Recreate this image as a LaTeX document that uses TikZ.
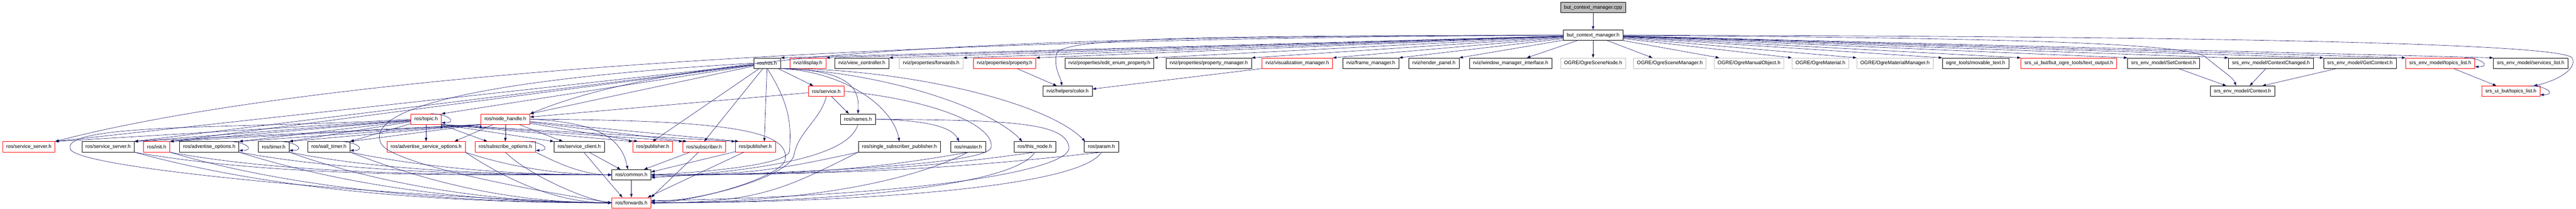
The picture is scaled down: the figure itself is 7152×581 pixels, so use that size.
\documentclass[tikz,border=0pt]{standalone}
\usepackage{fontspec}
\setmainfont{Liberation Sans}
\usepackage{tikz}
\usetikzlibrary{shapes,positioning,arrows,arrows.meta,calc}
\definecolor{edgeblue}{HTML}{191970}
\definecolor{boxgray}{HTML}{BFBFBF}

\begin{document}
\begin{tikzpicture}[x=1pt,y=1pt,
            hbox/.style={rectangle, draw, line width=1pt, inner xsep=10pt, inner ysep=0pt,
                minimum height=29pt, anchor=center, fill=white, font=\fontsize{14}{16}\selectfont},
            hfile/.style={hbox, draw=black},
            hred/.style={hbox, draw=red},
            hgray/.style={hbox, draw=boxgray},
            hroot/.style={hbox, draw=black, fill=boxgray},
            incl/.style={draw=edgeblue, line width=0.9pt, -{Triangle[length=10pt,width=7pt]}}]

            \path[use as bounding box, fill=white] (0,0) rectangle (7152,-581);

            % the file and its header
            \node [hroot] (cpp) at (4423,-21) {but\_context\_manager.cpp};
            \node [hfile] (hdr) at (4423,-98) {but\_context\_manager.h};

            % what the header includes
            \node [hfile] (ros) at (2130,-176) {ros/ros.h};
            \node [hred] (display) at (2243,-176) {rviz/display.h};
            \node [hfile] (viewctl) at (2393,-176) {rviz/view\_controller.h};
            \node [hgray] (propfwd) at (2585,-176) {rviz/properties/forwards.h};
            \node [hred] (prop) at (2789,-176) {rviz/properties/property.h};
            \node [hfile] (editenum) at (3080,-176) {rviz/properties/edit\_enum\_property.h};
            \node [hfile] (propmgr) at (3356,-176) {rviz/properties/property\_manager.h};
            \node [hred] (vizmgr) at (3602,-176) {rviz/visualization\_manager.h};
            \node [hfile] (framemgr) at (3806,-176) {rviz/frame\_manager.h};
            \node [hfile] (render) at (3981,-176) {rviz/render\_panel.h};
            \node [hfile] (winmgr) at (4194,-176) {rviz/window\_manager\_interface.h};
            \node [hgray] (scenenode) at (4423,-176) {OGRE/OgreSceneNode.h};
            \node [hgray] (scenemgr) at (4636,-176) {OGRE/OgreSceneManager.h};
            \node [hgray] (manual) at (4856,-176) {OGRE/OgreManualObject.h};
            \node [hgray] (material) at (5054,-176) {OGRE/OgreMaterial.h};
            \node [hgray] (matmgr) at (5261,-176) {OGRE/OgreMaterialManager.h};
            \node [hfile] (movtext) at (5485,-176) {ogre\_tools/movable\_text.h};
            \node [hred] (textout) at (5744,-176) {srs\_ui\_but/but\_ogre\_tools/text\_output.h};
            \node [hfile] (setctx) at (6007,-176) {srs\_env\_model/SetContext.h};
            \node [hfile] (ctxchg) at (6305,-176) {srs\_env\_model/ContextChanged.h};
            \node [hfile] (getctx) at (6552,-176) {srs\_env\_model/GetContext.h};
            \node [hred] (envtopics) at (6775,-176) {srs\_env\_model/topics\_list.h};
            \node [hfile] (envsrv) at (7026,-176) {srs\_env\_model/services\_list.h};

            % third level
            \node [hred] (svc) at (2294,-254) {ros/service.h};
            \node [hfile] (color) at (2964,-254) {rviz/helpers/color.h};
            \node [hfile] (ctx) at (6226,-254) {srs\_env\_model/Context.h};
            \node [hred] (uitopics) at (6971,-254) {srs\_ui\_but/topics\_list.h};

            \node [hred] (topic) at (1183,-332) {ros/topic.h};
            \node [hred] (nh) at (1403,-332) {ros/node\_handle.h};
            \node [hfile] (names) at (2382,-332) {ros/names.h};

            % roscpp headers
            \node [hred] (ssrvr) at (80,-409) {ros/service\_server.h};
            \node [hfile] (ssrvb) at (300,-409) {ros/service\_server.h};
            \node [hred] (init) at (435,-409) {ros/init.h};
            \node [hfile] (advopt) at (581,-409) {ros/advertise\_options.h};
            \node [hfile] (timer) at (760,-409) {ros/timer.h};
            \node [hfile] (wtimer) at (913,-409) {ros/wall\_timer.h};
            \node [hred] (advsrv) at (1183,-409) {ros/advertise\_service\_options.h};
            \node [hred] (subopt) at (1403,-409) {ros/subscribe\_options.h};
            \node [hfile] (srvcli) at (1608,-409) {ros/service\_client.h};
            \node [hred] (pubA) at (1812,-409) {ros/publisher.h};
            \node [hred] (sub) at (1955,-409) {ros/subscriber.h};
            \node [hred] (pubB) at (2097,-409) {ros/publisher.h};
            \node [hfile] (ssp) at (2497,-409) {ros/single\_subscriber\_publisher.h};
            \node [hfile] (master) at (2688,-409) {ros/master.h};
            \node [hfile] (thisnode) at (2873,-409) {ros/this\_node.h};
            \node [hfile] (param) at (3058,-409) {ros/param.h};

            \node [hfile] (common) at (1753,-487) {ros/common.h};
            \node [hred] (fwd) at (1753,-565) {ros/forwards.h};

            % includes
            \draw[incl] (cpp) -- (hdr);

            \path[incl] (hdr) edge (ros.north east) edge (display.north east) edge (viewctl.north east) edge (propfwd.north east) edge (prop.north east);
            \path[incl] (hdr) edge (editenum.north east) edge (propmgr.north east) edge (vizmgr.north east) edge (framemgr.north east) edge (render.north east);
            \path[incl] (hdr) edge ([xshift=45pt]winmgr.north) edge (scenenode) edge ([xshift=-48pt]scenemgr.north) edge ([xshift=15pt]manual.north west) edge (material.north west);
            \path[incl] (hdr) edge (matmgr.north west) edge (movtext.north west) edge (textout.north west) edge (setctx.north west) edge (ctxchg.north west);
            \path[incl] (hdr) edge (getctx.north west) edge (envtopics.north west) edge (envsrv.north west);
            \draw[incl] (hdr) .. controls (3300,-100) and (2950,-105) .. (2933,-150) .. controls (2925,-190) and (2945,-215) .. ([xshift=-16pt]color.north);
            \draw[incl] (hdr) .. controls (5500,-105) and (6080,-118) .. (6125,-160) .. controls (6165,-195) and (6200,-215) .. ([xshift=-18pt]ctx.north);
            \draw[incl] (hdr) .. controls (6000,-100) and (7090,-118) .. (7140,-160) .. controls (7160,-190) and (7100,-225) .. ([xshift=-18pt]uitopics.north east);
            \draw[incl] (hdr) .. controls (2800,-100) and (1900,-140) .. (nh.north east);
            \draw[incl] (hdr) .. controls (2500,-105) and (900,-200) .. (ssrvr.north east);

            % ros/ros.h
            \path[incl] (ros) edge (ssrvr.north east) edge (ssrvb.north east) edge (init.north east) edge (topic.north east) edge (nh.north east);
            \path[incl] (ros) edge (pubA.north) edge (sub.north) edge ([xshift=25pt]pubB.north) edge ([xshift=-36pt]svc.north);
            \draw[incl] (ros.south east) .. controls (2380,-195) and (2385,-260) .. (names.north);
            \draw[incl] (ros.south east) .. controls (2350,-200) and (2480,-300) .. (ssp.north);
            \draw[incl] (ros.south east) .. controls (2450,-200) and (2750,-300) .. ([xshift=-35pt]thisnode.north);
            \draw[incl] (ros.south east) .. controls (2500,-190) and (2900,-280) .. ([xshift=-45pt]param.north);
            \draw[incl] (ros.south) .. controls (2200,-300) and (2195,-360) .. (2192,-420) .. controls (2188,-460) and (1950,-480) .. (common.east);
            \draw[incl] (ros.west) .. controls (1500,-210) and (1000,-280) .. (1058,-400) .. controls (1080,-445) and (1350,-510) .. (fwd.west);

            % ros/topic.h
            \path[incl] (topic) edge (ssrvr.north east) edge (ssrvb.north east) edge (init.north east) edge (advopt.north east) edge (timer.north east) edge (wtimer.north east);
            \path[incl] (topic) edge (advsrv) edge ([xshift=-50pt]subopt.north);
            \path[incl] (topic.south east) edge (srvcli.north west) edge (pubA.north west) edge (sub.north west) edge (pubB.north west);
            \draw[incl] (topic.west) .. controls (700,-360) and (170,-340) .. (195,-415) .. controls (215,-475) and (1200,-555) .. (fwd.west);
            \draw[incl] ([xshift=-30pt]topic.north east) .. controls +(50pt,0) and +(45pt,0) .. ([yshift=5pt]topic.south east);

            % ros/node_handle.h
            \path[incl] (nh.south west) edge (ssrvb.north east) edge (init.north east) edge (advopt.north east) edge (timer.north east) edge (wtimer.north east);
            \path[incl] (nh) edge ([xshift=-30pt]advsrv.north east) edge (subopt) edge ([xshift=25pt]srvcli.north west) edge ([xshift=15pt]pubA.north west) edge ([xshift=12pt]sub.north west) edge ([xshift=10pt]pubB.north west);
            \draw[incl] (nh.east) .. controls (1650,-340) and (1725,-380) .. ([xshift=-10pt]common.north);
            \draw[incl] (nh.east) .. controls (2000,-335) and (2195,-360) .. (2180,-445) .. controls (2172,-490) and (1950,-560) .. (fwd.east);

            % ros/service.h and ros/names.h
            \path[incl] (svc) edge ([yshift=6pt]nh.east) edge ([xshift=-25pt]names.north);
            \draw[incl] (svc.east) .. controls (2600,-280) and (2760,-350) .. (2752,-410) .. controls (2746,-455) and (2300,-480) .. ([yshift=-4pt]common.east);
            \draw[incl] (svc.south) .. controls (2280,-330) and (2215,-370) .. (2205,-430) .. controls (2195,-490) and (1950,-560) .. ([yshift=4pt]fwd.east);
            \draw[incl] (names.east) .. controls (2560,-335) and (2640,-350) .. ([xshift=-25pt]master.north);
            \draw[incl] (names.south) .. controls (2360,-420) and (2200,-470) .. ([yshift=-8pt]common.east);
            \draw[incl] (names.east) .. controls (2800,-335) and (2958,-340) .. (2968,-410) .. controls (2975,-470) and (2600,-545) .. ([yshift=6pt]fwd.east);

            % down to ros/common.h and ros/forwards.h
            \draw[incl] (ssrvb.south east) .. controls +(400,-70) and +(-450,0) .. (common.west);
            \draw[incl] (ssrvb.south east) .. controls +(400,-110) and +(-450,0) .. (fwd.west);
            \draw[incl] (init.south east) .. controls +(350,-65) and +(-420,0) .. (common.west);
            \draw[incl] (init.south east) .. controls +(350,-105) and +(-420,0) .. (fwd.west);
            \draw[incl] (advopt.south east) .. controls +(300,-55) and +(-380,0) .. (common.west);
            \draw[incl] (advopt.south east) .. controls +(300,-95) and +(-380,0) .. (fwd.west);
            \draw[incl] (timer.south east) .. controls +(250,-50) and +(-330,0) .. (common.west);
            \draw[incl] (timer.south east) .. controls +(250,-90) and +(-330,0) .. (fwd.west);
            \draw[incl] (wtimer.south east) .. controls +(220,-45) and +(-280,0) .. (common.west);
            \draw[incl] (wtimer.south east) .. controls +(220,-85) and +(-280,0) .. (fwd.west);
            \draw[incl] (advsrv.south east) .. controls +(120,-40) and +(-150,0) .. (common.west);
            \draw[incl] (advsrv.south east) .. controls +(120,-80) and +(-150,0) .. (fwd.west);
            \draw[incl] (subopt.south east) .. controls +(60,-30) and +(-80,0) .. (common.west);
            \draw[incl] (subopt.south) .. controls +(60,-60) and +(-80,10) .. (fwd.west);
            \path[incl] (srvcli) edge ([xshift=-30pt]common.north) edge ([xshift=-25pt]fwd.north);
            \path[incl] (sub) edge ([xshift=-20pt]common.north east) edge (fwd.north east);
            \path[incl] (pubB) edge ([yshift=8pt]common.east) edge ([xshift=-10pt]fwd.north east);
            \draw[incl] (ssp.south west) .. controls +(-250,-55) and +(250,0) .. (common.east);
            \draw[incl] (ssp.south west) .. controls +(-200,-100) and +(300,0) .. (fwd.east);
            \draw[incl] (master.south) .. controls +(-300,-55) and +(350,0) .. (common.east);
            \draw[incl] (master.south) .. controls +(-200,-100) and +(350,0) .. (fwd.east);
            \draw[incl] (thisnode.south) .. controls +(-350,-50) and +(450,0) .. (common.east);
            \draw[incl] (thisnode.south) .. controls +(-60,-100) and +(450,0) .. (fwd.east);
            \draw[incl] (param.south) .. controls +(-400,-45) and +(550,0) .. (common.east);
            \draw[incl] (param.south) .. controls +(-60,-100) and +(550,0) .. (fwd.east);
            \draw[incl] (common) -- (fwd);

            % rviz and srs headers
            \path[incl] (prop) edge ([xshift=-30pt]color.north);
            \draw[incl] (vizmgr.south west) -- ([yshift=6pt]color.east);
            \path[incl] (setctx) edge ([xshift=-45pt]ctx.north);
            \path[incl] (ctxchg) edge ([xshift=20pt]ctx.north);
            \path[incl] (getctx) edge ([xshift=55pt]ctx.north);
            \path[incl] (envtopics) edge ([xshift=-40pt]uitopics.north);

            % self loops
            \draw[incl] ([xshift=-30pt]advopt.north east) .. controls +(50pt,0) and +(45pt,0) .. ([yshift=5pt]advopt.south east);
            \draw[incl] ([xshift=-30pt]timer.north east) .. controls +(50pt,0) and +(45pt,0) .. ([yshift=5pt]timer.south east);
            \draw[incl] ([xshift=-30pt]wtimer.north east) .. controls +(50pt,0) and +(45pt,0) .. ([yshift=5pt]wtimer.south east);
            \draw[incl] ([xshift=-30pt]subopt.north east) .. controls +(50pt,0) and +(45pt,0) .. ([yshift=5pt]subopt.south east);
            \draw[incl] ([xshift=-30pt]envtopics.north east) .. controls +(50pt,0) and +(45pt,0) .. ([yshift=5pt]envtopics.south east);
            \draw[incl] ([xshift=-30pt]uitopics.north east) .. controls +(50pt,0) and +(45pt,0) .. ([yshift=5pt]uitopics.south east);

        \end{tikzpicture}
\end{document}
